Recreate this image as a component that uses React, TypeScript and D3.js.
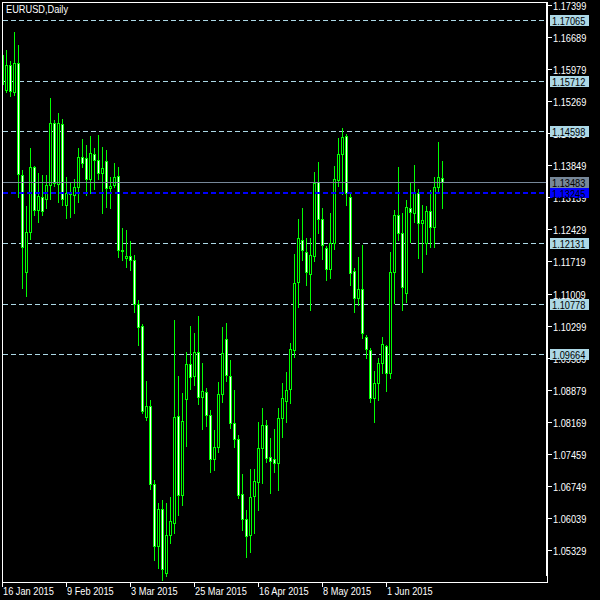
import React from "react";
import * as d3 from "d3";

const symbolLabel = "EURUSD,Daily";

const open = [
  1.1629, 1.1552, 1.1607, 1.1547, 1.1612, 1.1363, 1.1149, 1.1237, 1.1381, 1.1286,
  1.1315, 1.1310, 1.1341, 1.1479, 1.1343, 1.1476, 1.1297, 1.1321, 1.1319, 1.1337,
  1.1403, 1.1401, 1.1355, 1.1410, 1.1397, 1.1368, 1.1394, 1.1335, 1.1341, 1.1361,
  1.1197, 1.1180, 1.1184, 1.1175, 1.1078, 1.1029, 1.0827, 1.0852, 1.0679, 1.0542,
  1.0624, 1.0482, 1.0566, 1.0593, 1.0830, 1.0655, 1.0867, 1.0945, 1.0918, 1.0972,
  1.0872, 1.0883, 1.0832, 1.0735, 1.0761, 1.0878, 1.1000, 1.0918, 1.0814, 1.0779,
  1.0657, 1.0602, 1.0566, 1.0653, 1.0684, 1.0759, 1.0810, 1.0739, 1.0735, 1.0726,
  1.0825, 1.0863, 1.0890, 1.0976, 1.1127, 1.1220, 1.1193, 1.1144, 1.1184, 1.1348,
  1.1266, 1.1202, 1.1155, 1.1213, 1.1352, 1.1410, 1.1450, 1.1315, 1.1151, 1.1091,
  1.1111, 1.1005, 1.0976, 1.0870, 1.0903, 1.0947, 1.0985, 1.0925, 1.1149, 1.1275,
  1.1235, 1.1102, 1.1290, 1.1279, 1.1324, 1.1257, 1.1213, 1.1284, 1.1248, 1.1337,
  1.1357,
];

const high = [
  1.1640, 1.1640, 1.1616, 1.1680, 1.1651, 1.1375, 1.1295, 1.1423, 1.1383, 1.1368,
  1.1363, 1.1363, 1.1534, 1.1485, 1.1501, 1.1487, 1.1359, 1.1348, 1.1355, 1.1423,
  1.1443, 1.1430, 1.1450, 1.1423, 1.1452, 1.1425, 1.1419, 1.1359, 1.1390, 1.1381,
  1.1246, 1.1242, 1.1217, 1.1186, 1.1087, 1.1033, 1.0907, 1.0865, 1.0688, 1.0637,
  1.0644, 1.0637, 1.0650, 1.1042, 1.0918, 1.0881, 1.0971, 1.1029, 1.1014, 1.1051,
  1.0947, 1.0892, 1.0843, 1.0799, 1.0905, 1.1027, 1.1036, 1.0954, 1.0887, 1.0788,
  1.0701, 1.0622, 1.0712, 1.0712, 1.0816, 1.0847, 1.0821, 1.0781, 1.0801, 1.0847,
  1.0903, 1.0927, 1.0991, 1.1188, 1.1266, 1.1290, 1.1224, 1.1224, 1.1370, 1.1392,
  1.1290, 1.1206, 1.1279, 1.1383, 1.1445, 1.1468, 1.1454, 1.1324, 1.1157, 1.1182,
  1.1208, 1.1009, 1.0980, 1.0929, 1.0958, 1.1005, 1.0987, 1.1193, 1.1286, 1.1381,
  1.1279, 1.1308, 1.1346, 1.1386, 1.1332, 1.1297, 1.1295, 1.1330, 1.1359, 1.1437,
  1.1394,
];

const low = [
  1.1552, 1.1547, 1.1538, 1.1541, 1.1315, 1.1113, 1.1096, 1.1222, 1.1275, 1.1259,
  1.1275, 1.1290, 1.1310, 1.1339, 1.1304, 1.1297, 1.1268, 1.1270, 1.1279, 1.1304,
  1.1381, 1.1319, 1.1324, 1.1332, 1.1355, 1.1279, 1.1293, 1.1290, 1.1337, 1.1182,
  1.1175, 1.1160, 1.1153, 1.1060, 1.0987, 1.0836, 1.0821, 1.0668, 1.0511, 1.0493,
  1.0467, 1.0475, 1.0549, 1.0571, 1.0611, 1.0633, 1.0763, 1.0890, 1.0898, 1.0856,
  1.0801, 1.0808, 1.0706, 1.0710, 1.0750, 1.0861, 1.0907, 1.0803, 1.0761, 1.0648,
  1.0577, 1.0517, 1.0529, 1.0571, 1.0622, 1.0681, 1.0728, 1.0659, 1.0706, 1.0666,
  1.0783, 1.0816, 1.0858, 1.0960, 1.1071, 1.1175, 1.1120, 1.1065, 1.1173, 1.1235,
  1.1177, 1.1131, 1.1135, 1.1200, 1.1339, 1.1321, 1.1297, 1.1120, 1.1060, 1.1076,
  1.1002, 1.0958, 1.0861, 1.0816, 1.0865, 1.0925, 1.0885, 1.0914, 1.1080, 1.1220,
  1.1065, 1.1082, 1.1215, 1.1259, 1.1180, 1.1149, 1.1188, 1.1204, 1.1204, 1.1326,
  1.1290,
];

const close = [
  1.1565, 1.1607, 1.1550, 1.1612, 1.1366, 1.1204, 1.1237, 1.1381, 1.1286, 1.1317,
  1.1284, 1.1341, 1.1479, 1.1346, 1.1479, 1.1310, 1.1324, 1.1326, 1.1337, 1.1403,
  1.1390, 1.1355, 1.1412, 1.1397, 1.1368, 1.1379, 1.1335, 1.1339, 1.1359, 1.1197,
  1.1195, 1.1184, 1.1175, 1.1078, 1.1027, 1.0841, 1.0852, 1.0679, 1.0542, 1.0624,
  1.0491, 1.0566, 1.0597, 1.0827, 1.0655, 1.0819, 1.0945, 1.0916, 1.0972, 1.0872,
  1.0885, 1.0832, 1.0735, 1.0761, 1.0878, 1.0969, 1.0921, 1.0814, 1.0779, 1.0655,
  1.0602, 1.0564, 1.0650, 1.0686, 1.0759, 1.0810, 1.0737, 1.0730, 1.0726, 1.0825,
  1.0870, 1.0887, 1.0978, 1.1124, 1.1224, 1.1197, 1.1149, 1.1186, 1.1346, 1.1266,
  1.1208, 1.1155, 1.1213, 1.1355, 1.1410, 1.1448, 1.1324, 1.1146, 1.1091, 1.1111,
  1.1014, 1.0978, 1.0870, 1.0903, 1.0947, 1.0989, 1.0925, 1.1149, 1.1275, 1.1235,
  1.1115, 1.1293, 1.1282, 1.1324, 1.1257, 1.1264, 1.1284, 1.1248, 1.1337, 1.1359,
  1.13483,
];

const dateTickIndex = [0, 16, 32, 48, 64, 80, 96];
const dateTickLabels = [
  "16 Jan 2015",
  "9 Feb 2015",
  "3 Mar 2015",
  "25 Mar 2015",
  "16 Apr 2015",
  "8 May 2015",
  "1 Jun 2015",
];

const priceTicks = [
  1.17399, 1.16689, 1.15979, 1.15269, 1.14559, 1.13849, 1.13139, 1.12429, 1.11719,
  1.11009, 1.10299, 1.09589, 1.08879, 1.08169, 1.07459, 1.06749, 1.06039, 1.05329,
];

const levelLines = [1.17065, 1.15712, 1.14598, 1.12131, 1.10778, 1.09664];
const bidPrice = 1.13483;
const askPrice = 1.13245;

const FONT = "'Liberation Sans', Arial, sans-serif";
const SX = 0.84;

function T({ x, y, fill, children }: { x: number; y: number; fill: string; children: React.ReactNode }) {
  return (
    <text transform={`translate(${x},${y}) scale(${SX},1)`} fill={fill} fontSize={11}>
      {children}
    </text>
  );
}

export default function App() {
  const W = 600;
  const H = 600;
  const left = 2;
  const top = 2;
  const right = 548;
  const bottom = 582;

  const y = d3.scaleLinear().domain([1.05329, 1.17399]).range([550, 5]);
  const x = d3.scaleLinear().domain([0, 110]).range([2, 442]);
  const fmt = d3.format(".5f");

  const candles = open.map((o, i) => {
    const cx = Math.round(x(i));
    const yo = Math.round(y(o));
    const yc = Math.round(y(close[i]));
    const yh = Math.round(y(high[i]));
    const yl = Math.round(y(low[i]));
    const bull = close[i] > o;
    const t = Math.min(yo, yc);
    const b = Math.max(yo, yc);
    return (
      <g key={i}>
        <line x1={cx + 0.5} x2={cx + 0.5} y1={yh} y2={yl + 1} stroke="#00ff00" strokeWidth={1} />
        {b - t > 0 ? (
          <rect
            x={cx - 0.5}
            y={t + 0.5}
            width={2}
            height={b - t}
            fill={bull ? "#000000" : "#ffffff"}
            stroke="#00ff00"
            strokeWidth={1}
          />
        ) : (
          <line x1={cx - 1} x2={cx + 2} y1={t + 0.5} y2={t + 0.5} stroke="#00ff00" strokeWidth={1} />
        )}
      </g>
    );
  });

  return (
    <svg
      width={W}
      height={H}
      style={{ position: "fixed", left: 0, top: 0, display: "block", background: "#000" }}
      fontFamily={FONT}
    >
      <rect x={0} y={0} width={W} height={H} fill="#000000" />
      <defs>
        <clipPath id="plot">
          <rect x={left + 1} y={top + 1} width={right - left - 3} height={bottom - top - 1} />
        </clipPath>
      </defs>

      {/* level lines */}
      {levelLines.map((v) => (
        <line
          key={v}
          x1={left + 1}
          x2={right - 2}
          y1={Math.round(y(v)) + 0.5}
          y2={Math.round(y(v)) + 0.5}
          stroke="#add8e6"
          strokeWidth={1}
          strokeDasharray="5,3"
        />
      ))}

      <g clipPath="url(#plot)">{candles}</g>

      {/* bid & ask lines */}
      <line
        x1={left + 1}
        x2={right - 2}
        y1={Math.round(y(bidPrice)) + 0.5}
        y2={Math.round(y(bidPrice)) + 0.5}
        stroke="#778899"
        strokeWidth={1}
      />
      <line
        x1={left + 1}
        x2={right - 2}
        y1={Math.round(y(askPrice))}
        y2={Math.round(y(askPrice))}
        stroke="#0000ff"
        strokeWidth={2}
        strokeDasharray="5,3"
      />

      {/* frame */}
      <line x1={left + 0.5} x2={left + 0.5} y1={top} y2={bottom + 1} stroke="#fff" />
      <line x1={left} x2={right} y1={top + 0.5} y2={top + 0.5} stroke="#fff" />
      <line x1={left} x2={right} y1={bottom + 0.5} y2={bottom + 0.5} stroke="#fff" />
      <rect x={right - 2} y={top} width={2} height={bottom - top - 6} fill="#fff" />
      <line x1={right - 0.5} x2={right - 0.5} y1={top} y2={bottom + 1} stroke="#fff" />

      {/* price axis */}
      {priceTicks.map((v) => {
        const ty = Math.round(y(v)) + 0.5;
        return (
          <g key={v}>
            <line x1={right} x2={right + 4} y1={ty} y2={ty} stroke="#fff" />
            <T x={right + 5} y={ty + 4} fill="#fff">
              {fmt(v)}
            </T>
          </g>
        );
      })}

      {/* level labels */}
      {levelLines.map((v) => {
        const ty = Math.round(y(v));
        return (
          <g key={"l" + v}>
            <rect x={550} y={ty - 5} width={39} height={11} fill="#add8e6" />
            <T x={552} y={ty + 4.5} fill="#000">
              {fmt(v)}
            </T>
          </g>
        );
      })}
      <rect x={550} y={Math.round(y(bidPrice)) - 5} width={39} height={11} fill="#778899" />
      <T x={552} y={Math.round(y(bidPrice)) + 4.5} fill="#000">
        {fmt(bidPrice)}
      </T>
      <rect x={550} y={Math.round(y(askPrice)) - 5} width={39} height={10} fill="#0000ff" />
      <T x={552} y={Math.round(y(askPrice)) + 4.5} fill="#000">
        {fmt(askPrice)}
      </T>

      {/* date axis */}
      {dateTickIndex.map((idx, k) => {
        const tx = Math.round(x(idx)) + 0.5;
        return (
          <g key={idx}>
            <line x1={tx} x2={tx} y1={bottom} y2={bottom + 5} stroke="#fff" />
            <T x={tx + 0.5} y={595} fill="#fff">
              {dateTickLabels[k]}
            </T>
          </g>
        );
      })}

      <T x={6} y={13} fill="#fff">
        {symbolLabel}
      </T>
    </svg>
  );
}
